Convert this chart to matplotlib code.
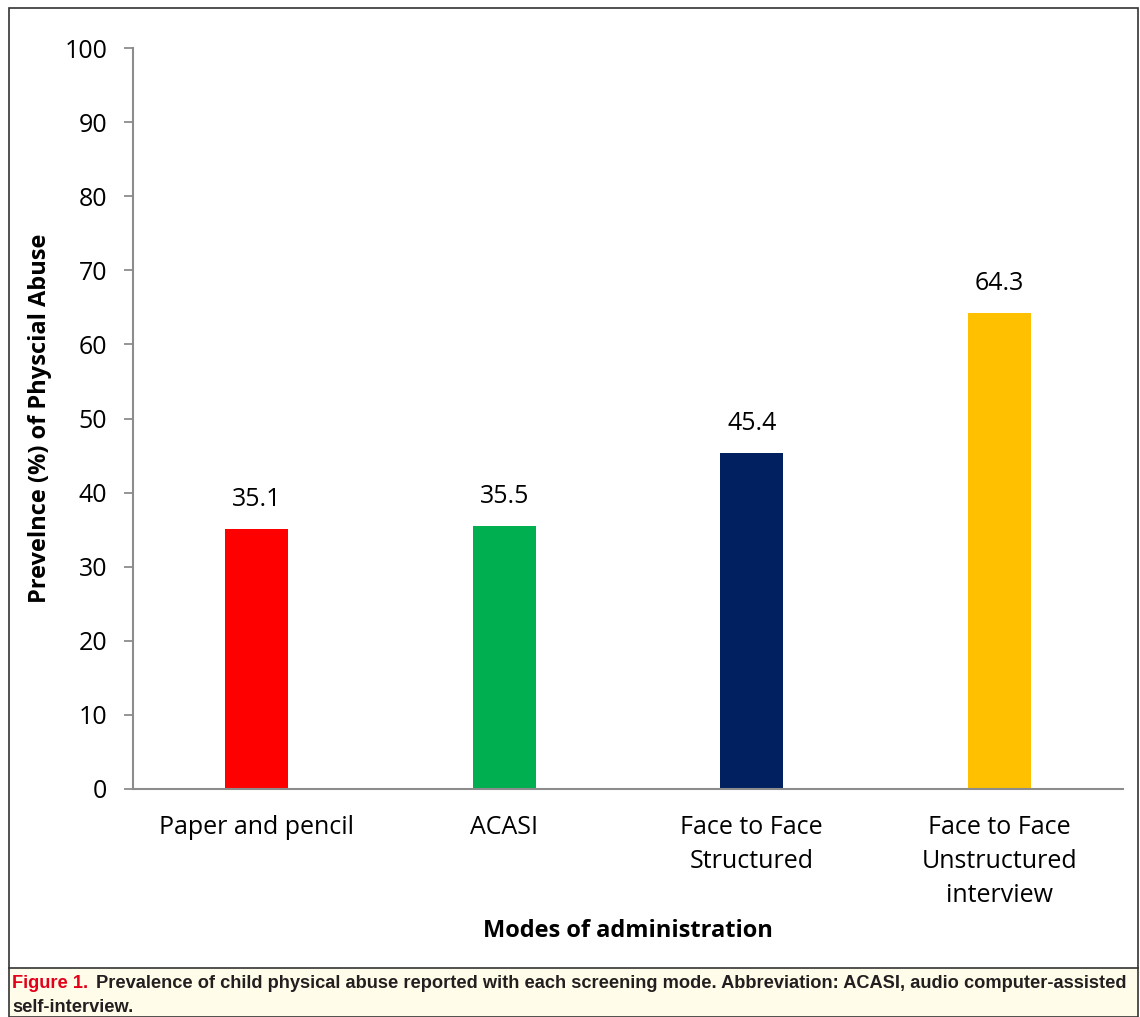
import matplotlib.pyplot as plt
from matplotlib.patches import Rectangle

# data
modes = ['Paper and pencil', 'ACASI', 'Face to Face\nStructured', 'Face to Face\nUnstructured\ninterview']
prevalence = [35.1, 35.5, 45.4, 64.3]
bar_colors = ['#FF0000', '#00B050', '#002060', '#FFC000']
yticks = list(range(0, 101, 10))

plt.rcParams['font.family'] = ['Open Sans', 'DejaVu Sans']

fig = plt.figure(figsize=(11.4, 10.17), dpi=100)
W, H = 1140, 1017

# caption band and outer frame
fig.patches.append(Rectangle((9 / W, 0), (1138 - 9) / W, (H - 968) / H, transform=fig.transFigure,
                             facecolor='#FFFDE9', edgecolor='none', zorder=0))
fig.patches.append(Rectangle((9 / W, 0), (1138 - 9) / W, (H - 8) / H, transform=fig.transFigure,
                             facecolor='none', edgecolor='#333333', linewidth=1.2, zorder=1))
fig.add_artist(plt.Line2D([9 / W, 1138 / W], [(H - 968) / H] * 2, color='#333333', lw=1.2))

ax = fig.add_axes([133 / W, 228 / H, 990 / W, 741 / H])
x = range(len(modes))
bars = ax.bar(x, prevalence, width=0.255, color=bar_colors, zorder=2)
for xi, v in zip(x, prevalence):
    ax.annotate(f'{v}', (xi, v), xytext=(0, 21), textcoords='offset points',
                ha='center', va='center', fontsize=18)

ax.set_xlim(-0.5, len(modes) - 0.5)
ax.set_ylim(0, 100)
ax.set_yticks(yticks)
ax.set_xticks(list(x))
ax.set_xticklabels(modes, fontsize=18, linespacing=1.47)
ax.tick_params(axis='y', labelsize=18, length=6.5, width=1.3, color='#8C8C8C', pad=12)
ax.tick_params(axis='x', length=0, pad=19)
for s in ['top', 'right']:
    ax.spines[s].set_visible(False)
for s in ['left', 'bottom']:
    ax.spines[s].set_color('#8C8C8C')
    ax.spines[s].set_linewidth(1.5)

ax.set_ylabel('Prevelnce (%) of Physcial Abuse', fontsize=17, fontweight='bold', labelpad=9)
ax.set_xlabel('Modes of administration', fontsize=17, fontweight='bold', labelpad=8)

# caption, two parts on the first line
cap_font = ['Liberation Sans', 'DejaVu Sans']
cap_size = 13.15
y1 = 1 - 984 / H
t1 = fig.text(12 / W, y1, 'Figure 1.', color='#E2001A', fontsize=cap_size, fontweight='bold',
              family=cap_font, va='center')
fig.canvas.draw()
bb = t1.get_window_extent()
fig.text((bb.x1 + 8) / W, y1,
         'Prevalence of child physical abuse reported with each screening mode. Abbreviation: ACASI, audio computer-assisted',
         color='#231F20', fontsize=cap_size, fontweight='bold', family=cap_font, va='center')
fig.text(12 / W, 1 - 1007 / H, 'self-interview.', color='#231F20', fontsize=cap_size, fontweight='bold',
         family=cap_font, va='center')

fig.savefig('out.png', dpi=100)
